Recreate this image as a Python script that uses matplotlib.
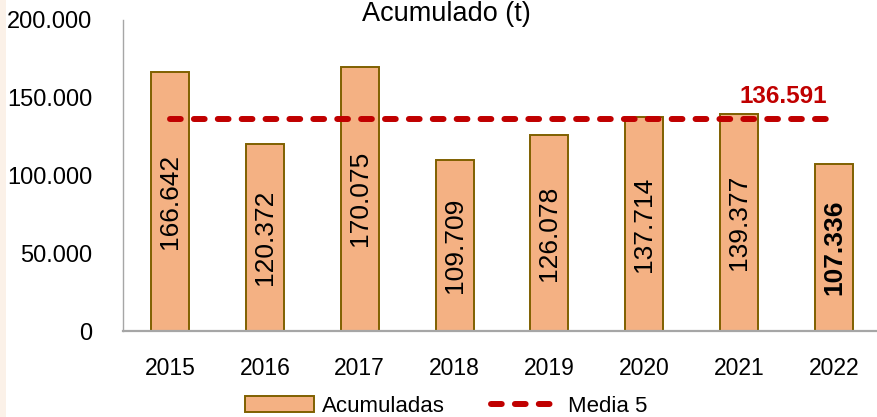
import matplotlib

matplotlib.use("Agg")

import matplotlib.pyplot as plt
import matplotlib.patches as mpatches
from matplotlib.ticker import FuncFormatter

years = ["2015", "2016", "2017", "2018", "2019", "2020", "2021", "2022"]
acumuladas = [166642, 120372, 170075, 109709, 126078, 137714, 139377, 107336]
media5 = [136591] * len(years)
title = "Acumulado (t)"

BAR_FACE = "#F4B183"
BAR_EDGE = "#7F6000"
RED = "#C00000"
GRID_GRAY = "#A6A6A6"


def thousands(v, _pos=None):
    return f"{v:,.0f}".replace(",", ".")


plt.rcParams["font.family"] = ["Liberation Sans", "DejaVu Sans"]

fig = plt.figure(figsize=(8.77, 4.17), dpi=100, facecolor="white")
# beige strip at the very left edge
fig.patches.append(
    mpatches.Rectangle((0, 0), 6 / 877, 1, transform=fig.transFigure,
                       facecolor="#FBF1E8", edgecolor="none", zorder=0)
)

ax = fig.add_axes([123 / 877, 1 - 331 / 417, 1 - 123 / 877, (331 - 20) / 417])
x = list(range(len(years)))

bars = ax.bar(x, acumuladas, width=0.4, color=BAR_FACE, edgecolor=BAR_EDGE,
              linewidth=1.4, zorder=2, label="Acumuladas")
line, = ax.plot(x, media5, color=RED, linewidth=4.3, linestyle=(0, (1.8, 2.2)),
                dash_capstyle="round", zorder=3, label="Media 5")

for i, v in enumerate(acumuladas):
    bold = i == len(acumuladas) - 1
    ax.text(i, v / 2, thousands(v), rotation=90, ha="center", va="center",
            fontsize=19, fontweight="bold" if bold else "normal",
            color="black", zorder=4)

ax.text(6.46, 150600, thousands(media5[-1]), ha="center", va="center",
        fontsize=17.5, fontweight="bold", color=RED, zorder=4)

ax.set_xlim(-0.495, 7.453)
ax.set_ylim(0, 200000)
ax.set_yticks([0, 50000, 100000, 150000, 200000])
ax.yaxis.set_major_formatter(FuncFormatter(thousands))
ax.set_xticks(x)
ax.set_xticklabels(years)
ax.tick_params(axis="y", length=0, pad=22, labelsize=17)
ax.tick_params(axis="x", length=0, pad=19, labelsize=16.5)

for side in ("top", "right"):
    ax.spines[side].set_visible(False)
ax.spines["left"].set_color(GRID_GRAY)
ax.spines["left"].set_linewidth(1.0)
ax.spines["bottom"].set_color(GRID_GRAY)
ax.spines["bottom"].set_linewidth(1.6)

fig.text(446 / 877, 1 - 14 / 417, title, ha="center", va="center", fontsize=19.5)

fig.legend(handles=[bars, line], labels=["Acumuladas", "Media 5"],
           loc="center", bbox_to_anchor=(446 / 877, 1 - 406 / 417), ncol=2,
           frameon=False, fontsize=16, handlelength=3.1, handleheight=0.73,
           handletextpad=0.36, columnspacing=2.1, borderpad=0, borderaxespad=0)

fig.savefig("out.png", dpi=100, facecolor="white")
